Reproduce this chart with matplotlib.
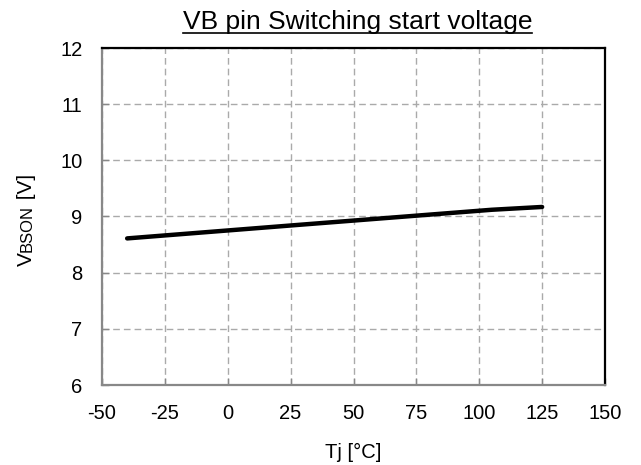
import matplotlib
matplotlib.use("Agg")
import matplotlib.pyplot as plt

temps = [-40, 25, 105, 125]
vbson = [8.61, 8.84, 9.12, 9.17]
x_ticks = [-50, -25, 0, 25, 50, 75, 100, 125, 150]
y_ticks = [6, 7, 8, 9, 10, 11, 12]
title = "VB pin Switching start voltage"
xlabel = "Tj [°C]"

plt.rcParams['font.family'] = ['Liberation Sans', 'DejaVu Sans']

fig = plt.figure(figsize=(6.41, 4.65), dpi=100)
W, H = 641, 465
ax = fig.add_axes([102 / W, 1 - 385 / H, (605 - 102) / W, (385 - 48) / H])

ax.plot(temps, vbson, color='black', lw=3.2, solid_capstyle='round', solid_joinstyle='round', zorder=3)

ax.set_xlim(-50, 150)
ax.set_ylim(6, 12)
ax.set_xticks(x_ticks)
ax.set_yticks(y_ticks)
ax.set_xticklabels([str(t) for t in x_ticks])
ax.set_yticklabels([str(t) for t in y_ticks])
ax.grid(True, color='#aaaaaa', linestyle=(0, (4.8, 2.9)), linewidth=1.0)
ax.tick_params(direction='in', length=5, width=1, color='#888888', labelsize=14.5, labelcolor='black')
ax.tick_params(axis='y', pad=14)
ax.tick_params(axis='x', pad=14)

for s in ['left', 'bottom']:
    ax.spines[s].set_color('#888888')
    ax.spines[s].set_linewidth(1.6)
for s in ['top', 'right']:
    ax.spines[s].set_color('black')
    ax.spines[s].set_linewidth(1.6)

fig.text(353.5 / W, 1 - 458 / H, xlabel, fontsize=14.5, ha='center', va='baseline')

# Title with underline
t = fig.text(357.5 / W, 1 - 29 / H, title, fontsize=19, ha='center', va='baseline')
fig.canvas.draw()
r = fig.canvas.get_renderer()
bb = t.get_window_extent(r)
uy = (1 - 33.5 / H)
fig.add_artist(plt.Line2D([bb.x0 / W, bb.x1 / W], [uy, uy], color='black', lw=1.2, transform=fig.transFigure))

# Y label: V + small BSON + [V], rotated
pieces = [("V", 15), ("BSON", 12), (" [V]", 15)]
x_base = 31.5 / W
widths = []
for txt, fs in pieces:
    tt = fig.text(0, 0, txt, fontsize=fs, rotation=90, rotation_mode='anchor', ha='left', va='baseline')
    fig.canvas.draw()
    e = tt.get_window_extent(r)
    widths.append(e.height)
    tt.remove()
total = sum(widths)
ycur = (H - 220) - total / 2
for (txt, fs), w in zip(pieces, widths):
    fig.text(x_base, ycur / H, txt, fontsize=fs, rotation=90, rotation_mode='anchor', ha='left', va='baseline')
    ycur += w

fig.savefig("out.png", dpi=100)
